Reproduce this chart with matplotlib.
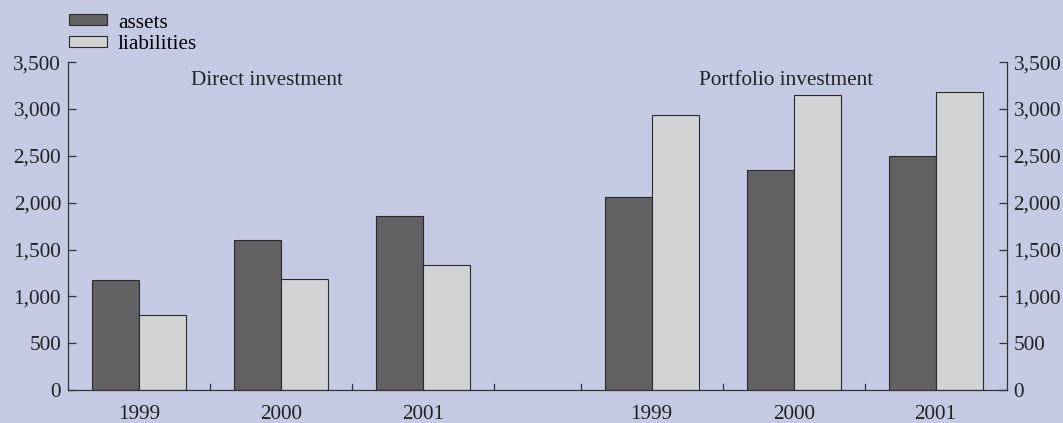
import numpy as np
import matplotlib.pyplot as plt
from matplotlib.patches import Patch

plt.rcParams['font.family'] = ['Liberation Serif', 'DejaVu Serif']

# data
years = ['1999', '2000', '2001']
direct_assets = [1175, 1605, 1860]
direct_liabilities = [805, 1180, 1330]
portfolio_assets = [2060, 2345, 2495]
portfolio_liabilities = [2935, 3145, 3180]
yticks = [0, 500, 1000, 1500, 2000, 2500, 3000, 3500]

bg = '#c5cae4'
dark = '#616163'
light = '#d1d2d4'
edge = '#2a2a2a'
fs = 15.3

fig = plt.figure(figsize=(10.63, 4.23), dpi=100, facecolor=bg)
ax = fig.add_axes([0.064, 0.078, 0.883, 0.775], facecolor=bg)

gap = 0.61  # empty space between the two blocks
x_direct = np.arange(3)
x_port = np.arange(3) + 3 + gap
w = 0.33

ax.bar(x_direct - w/2, direct_assets, w, color=dark, edgecolor=edge, linewidth=0.8)
ax.bar(x_direct + w/2, direct_liabilities, w, color=light, edgecolor=edge, linewidth=0.8)
ax.bar(x_port - w/2, portfolio_assets, w, color=dark, edgecolor=edge, linewidth=0.8)
ax.bar(x_port + w/2, portfolio_liabilities, w, color=light, edgecolor=edge, linewidth=0.8)

ax.set_xlim(-0.5, x_port[-1] + 0.5)
ax.set_ylim(0, 3500)

# y axes on both sides
ax.set_yticks(yticks)
ax.set_yticklabels([f'{v:,}' for v in yticks])
ax.tick_params(axis='y', direction='in', length=6, width=0.9, colors='#333333',
               labelsize=fs, labelcolor='#222222', left=True, right=True,
               labelleft=True, labelright=True, pad=5)

# x axis: year labels under bars, small tick marks between groups
ax.set_xticks(np.concatenate([x_direct, x_port]))
ax.set_xticklabels(years + years)
ax.tick_params(axis='x', length=0, labelsize=fs, labelcolor='#222222', pad=11)
bounds = [0.5, 1.5, 2.5, x_port[0] - 0.5, x_port[1] - 0.5, x_port[2] - 0.5]
for b in bounds:
    ax.plot([b, b], [0, 60], color='#333333', lw=0.9)

ax.spines['top'].set_visible(False)
for s in ['left', 'right', 'bottom']:
    ax.spines[s].set_color('#333333')
    ax.spines[s].set_linewidth(0.9)

ax.text(0.9, 3300, 'Direct investment', ha='center', va='center', fontsize=fs, color='#222222')
ax.text(x_port[1] - 0.05, 3300, 'Portfolio investment', ha='center', va='center', fontsize=fs, color='#222222')

handles = [Patch(facecolor=dark, edgecolor=edge, linewidth=0.8, label='assets'),
           Patch(facecolor=light, edgecolor=edge, linewidth=0.8, label='liabilities')]
fig.legend(handles=handles, loc='upper left', bbox_to_anchor=(0.065, 0.968), frameon=False,
           fontsize=fs, handlelength=1.8, handleheight=0.42, labelspacing=0.1,
           handletextpad=0.5, borderaxespad=0, borderpad=0)

fig.savefig('out.png', dpi=100, facecolor=bg)
